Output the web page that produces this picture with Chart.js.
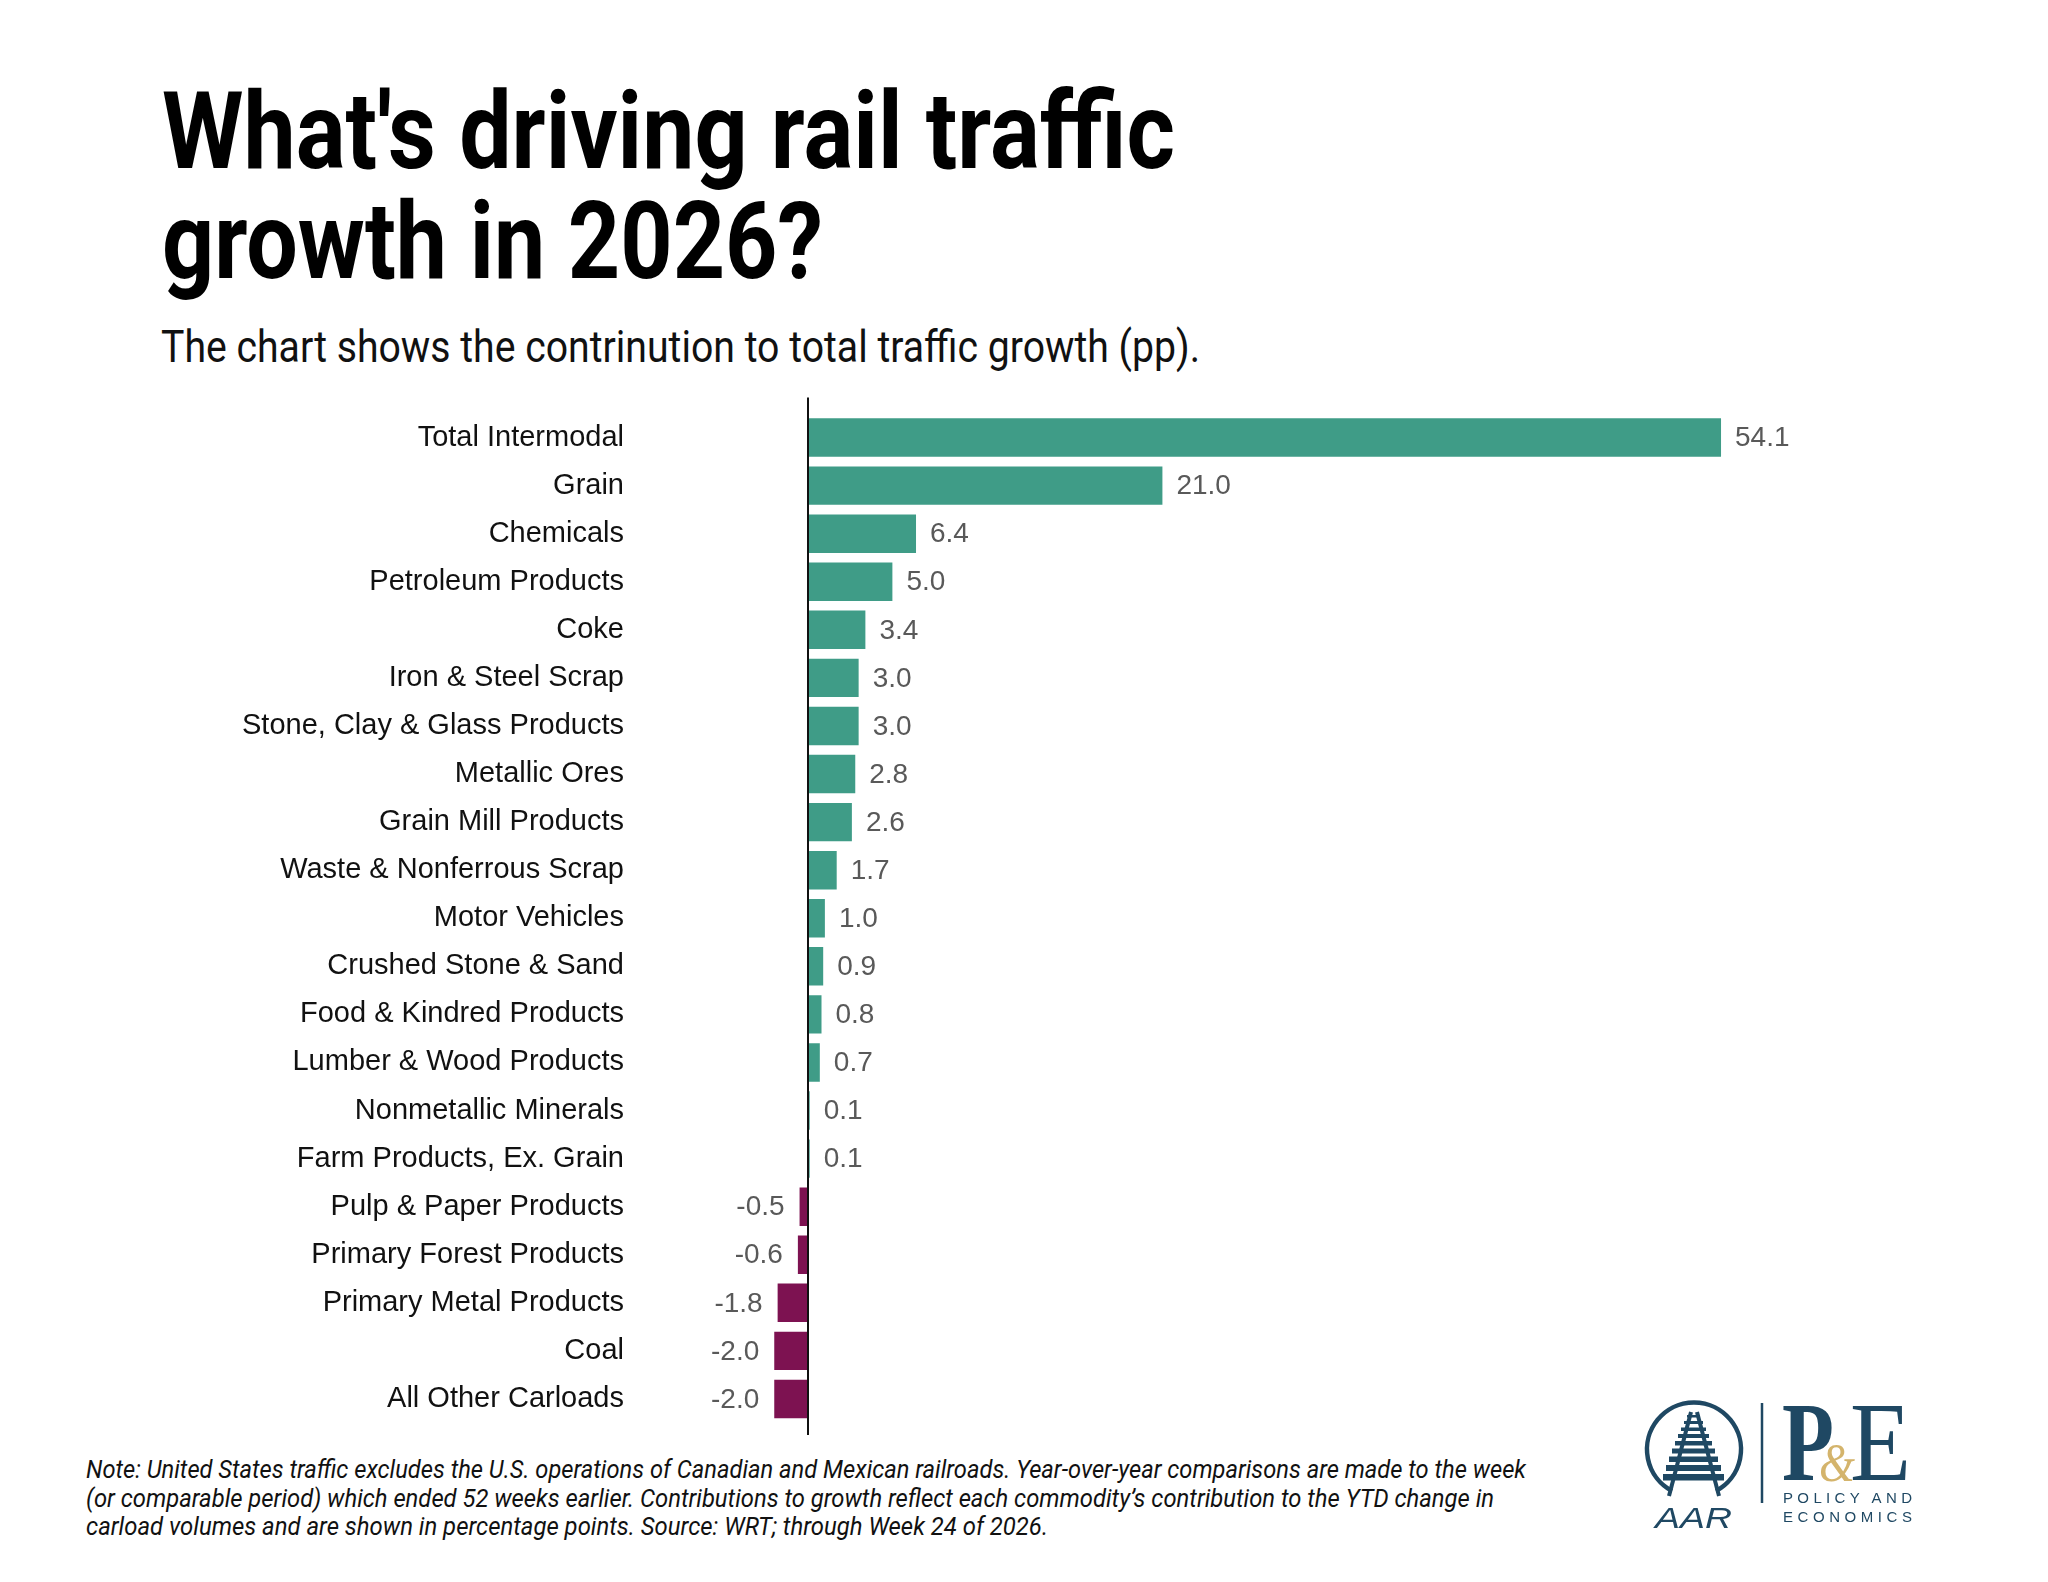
<!DOCTYPE html>
<html>
<head>
<meta charset="utf-8">
<title>What's driving rail traffic growth in 2026?</title>
<script src="https://cdn.jsdelivr.net/npm/chart.js@4.4.1/dist/chart.umd.min.js"></script>
<style>
  html, body { margin: 0; padding: 0; background: #fff; }
  body { width: 2048px; height: 1582px; position: relative; overflow: hidden; }
  .fit { display: inline-block; white-space: nowrap; transform-origin: 0 0; }
  .title {
    position: absolute; left: 162px; top: 76px; margin: 0;
    font-family: Roboto, "Liberation Sans", sans-serif;
    font-weight: bold; font-size: 108px; line-height: 110px; color: #000;
  }
  .subtitle {
    position: absolute; left: 161px; top: 325px; margin: 0;
    font-family: Roboto, "Liberation Sans", sans-serif;
    font-size: 44px; line-height: 44px; color: #111;
  }
  .note {
    position: absolute; left: 86px; top: 1455px; margin: 0;
    font-family: Roboto, "Liberation Sans", sans-serif;
    font-style: italic; font-size: 25.7px; line-height: 28.5px; color: #111;
  }
  #chart { position: absolute; left: 0; top: 390px; }
  #logo { position: absolute; left: 0; top: 0; }
</style>
</head>
<body>
<div class="title">
  <span class="fit" data-w="1013">What's driving rail traffic</span><br>
  <span class="fit" data-w="661">growth in 2026?</span>
</div>
<div class="subtitle"><span class="fit" data-w="1039">The chart shows the contrinution to total traffic growth (pp).</span></div>

<canvas id="chart" width="2048" height="1060" style="width:2048px;height:1060px"></canvas>

<div class="note">
  <span class="fit" data-w="1440">Note: United States traffic excludes the U.S. operations of Canadian and Mexican railroads. Year-over-year comparisons are made to the week</span><br>
  <span class="fit" data-w="1408">(or comparable period) which ended 52 weeks earlier. Contributions to growth reflect each commodity’s contribution to the YTD change in</span><br>
  <span class="fit" data-w="962">carload volumes and are shown in percentage points. Source: WRT; through Week 24 of 2026.</span>
</div>

<!-- AAR / P&E logo -->
<svg id="logo" width="2048" height="1582" viewBox="0 0 2048 1582">
  <g fill="none" stroke="#1f4863">
    <path d="M 1716 1491 A 47 47 0 1 0 1672 1491" stroke-width="4.5"/>
    <line x1="1691" y1="1412" x2="1669" y2="1496" stroke-width="4"/>
    <line x1="1697" y1="1412" x2="1719" y2="1496" stroke-width="4"/>
    <line x1="1762" y1="1403" x2="1762" y2="1503" stroke-width="2.5"/>
  </g>
  <g fill="#1f4863">
    <rect x="1687" y="1415" width="13" height="2.5"/>
    <rect x="1684" y="1421" width="19" height="3"/>
    <rect x="1681" y="1427.5" width="25" height="3.5"/>
    <rect x="1678" y="1434" width="31" height="4"/>
    <rect x="1675" y="1441" width="37" height="4.5"/>
    <rect x="1672" y="1448.5" width="43" height="5"/>
    <rect x="1669" y="1456.5" width="49" height="5.5"/>
    <rect x="1666" y="1465" width="55" height="6"/>
    <rect x="1663" y="1474" width="61" height="6.5"/>
    <text x="1655" y="1528" font-family="Liberation Sans, Arial, sans-serif" font-style="italic" font-size="29" textLength="77" lengthAdjust="spacingAndGlyphs">AAR</text>
    <text x="1782" y="1480" font-family="Liberation Serif, Times New Roman, serif" font-weight="bold" font-size="113" textLength="52" lengthAdjust="spacingAndGlyphs">P</text>
    <text x="1850" y="1480" font-family="Liberation Serif, Times New Roman, serif" font-size="113" textLength="61" lengthAdjust="spacingAndGlyphs">E</text>
    <text x="1783" y="1503" font-family="Liberation Sans, Arial, sans-serif" font-size="15" textLength="129" lengthAdjust="spacing">POLICY AND</text>
    <text x="1783" y="1522" font-family="Liberation Sans, Arial, sans-serif" font-size="15" textLength="129" lengthAdjust="spacing">ECONOMICS</text>
  </g>
  <text x="1819" y="1481" fill="#d4b46c" font-family="Liberation Serif, Times New Roman, serif" font-style="italic" font-size="54" textLength="36" lengthAdjust="spacingAndGlyphs">&amp;</text>
</svg>

<script>
// commodity groups, top to bottom
const categories = [
  "Total Intermodal", "Grain", "Chemicals", "Petroleum Products", "Coke",
  "Iron & Steel Scrap", "Stone, Clay & Glass Products", "Metallic Ores",
  "Grain Mill Products", "Waste & Nonferrous Scrap", "Motor Vehicles",
  "Crushed Stone & Sand", "Food & Kindred Products", "Lumber & Wood Products",
  "Nonmetallic Minerals", "Farm Products, Ex. Grain", "Pulp & Paper Products",
  "Primary Forest Products", "Primary Metal Products", "Coal", "All Other Carloads"
];
// contribution to total traffic growth, percentage points
const contributions = [
  54.1, 21.0, 6.4, 5.0, 3.4,
  3.0, 3.0, 2.8,
  2.6, 1.7, 1.0,
  0.9, 0.8, 0.7,
  0.1, 0.1, -0.5,
  -0.6, -1.8, -2.0, -2.0
];
const xRange = [-4, 60];

const positiveColor = "#3f9c87";
const negativeColor = "#7d1251";
const labelFont = '"Liberation Sans", Arial, sans-serif';

// squeeze the header / note lines to the condensed widths of the original
document.querySelectorAll(".fit").forEach(el => {
  var k = +el.dataset.w / el.getBoundingClientRect().width;
  el.style.transform = "scaleX(" + k + ")";
});

// value labels next to each bar + the zero line
const barLabels = {
  id: "barLabels",
  afterDatasetsDraw(chart) {
    const ctx = chart.ctx;
    const meta = chart.getDatasetMeta(0);
    ctx.save();
    ctx.font = "28px " + labelFont;
    ctx.fillStyle = "#595959";
    ctx.textBaseline = "middle";
    meta.data.forEach((bar, i) => {
      const v = contributions[i];
      if (v >= 0) {
        ctx.textAlign = "left";
        ctx.fillText(v.toFixed(1), bar.x + 14, bar.y + 1);
      } else {
        ctx.textAlign = "right";
        ctx.fillText(v.toFixed(1), bar.x - 15, bar.y + 1);
      }
    });
    const x0 = Math.round(chart.scales.x.getPixelForValue(0));
    ctx.strokeStyle = "#111";
    ctx.lineWidth = 2;
    ctx.beginPath();
    ctx.moveTo(x0, chart.chartArea.top - 16);
    ctx.lineTo(x0, chart.chartArea.bottom + 12);
    ctx.stroke();
    ctx.restore();
  }
};

var ctx = document.getElementById("chart");
var myChart = new Chart(ctx, {
  type: "bar",
  data: {
    labels: categories,
    datasets: [{
      data: contributions,
      backgroundColor: c => (contributions[c.dataIndex] < 0 ? negativeColor : positiveColor),
      borderWidth: 0,
      categoryPercentage: 1.0,
      barPercentage: 0.8
    }]
  },
  options: {
    indexAxis: "y",
    responsive: false,
    animation: false,
    devicePixelRatio: 1,
    layout: {
      padding: { left: 0, right: 227.4, top: 23.5, bottom: 27 }
    },
    plugins: {
      legend: { display: false },
      title: { display: false },
      tooltip: { enabled: false }
    },
    scales: {
      x: {
        display: false,
        min: xRange[0],
        max: xRange[1]
      },
      y: {
        grid: { display: false },
        border: { display: false },
        ticks: {
          padding: 108.5,
          color: "#111",
          font: { family: labelFont, size: 29 }
        },
        // fixed label column; tick padding must not pad the top/bottom
        afterFit: s => {
          s.width = 740.5;
          s.paddingTop = 0;
          s.paddingBottom = 0;
        }
      }
    }
  },
  plugins: [barLabels]
});
</script>
</body>
</html>
